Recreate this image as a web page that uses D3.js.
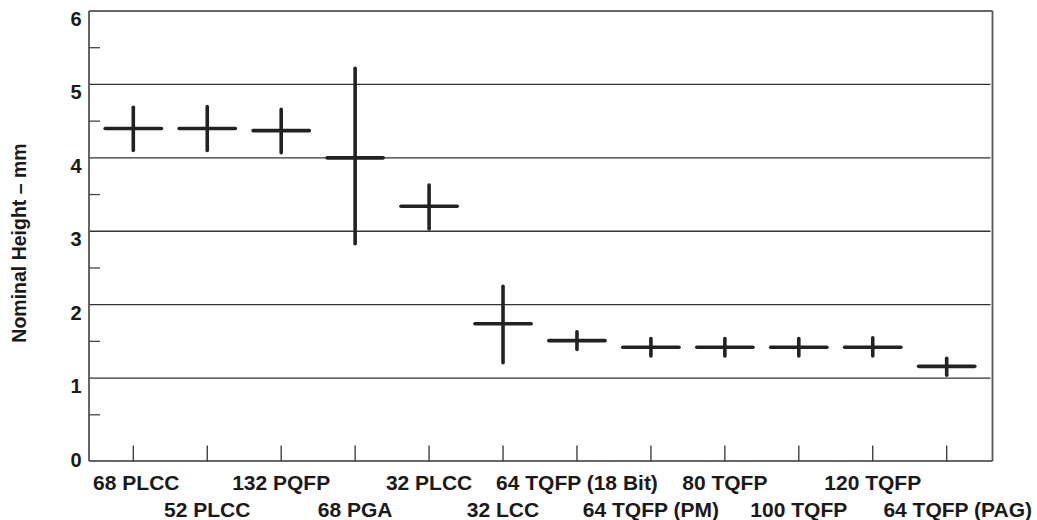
<!DOCTYPE html>
<html>
<head>
<meta charset="utf-8">
<script src="https://cdn.jsdelivr.net/npm/d3@7"></script>
<style>
  body { margin: 0; background: #fff; }
  svg text { font-family: "Liberation Sans", Arial, Helvetica, sans-serif; font-weight: bold; fill: #1a1a1a; }
</style>
</head>
<body>
<svg id="chart" width="1037" height="520"></svg>
<script>
// package names, in plot order
var categories = ['68 PLCC', '52 PLCC', '132 PQFP', '68 PGA', '32 PLCC', '32 LCC',
    '64 TQFP (18 Bit)', '64 TQFP (PM)', '80 TQFP', '100 TQFP', '120 TQFP', '64 TQFP (PAG)'];
// nominal height, mm
var nominal = [4.40, 4.40, 4.37, 4.00, 3.34, 1.74, 1.51, 1.42, 1.42, 1.42, 1.42, 1.16];
// min / max height, mm
var minHeight = [4.10, 4.10, 4.07, 2.83, 3.03, 1.21, 1.39, 1.30, 1.30, 1.30, 1.30, 1.04];
var maxHeight = [4.69, 4.70, 4.66, 5.22, 3.63, 2.25, 1.63, 1.54, 1.54, 1.54, 1.55, 1.27];
var yTicks = [0, 1, 2, 3, 4, 5, 6];
var yMinorTicks = [0.5, 1.5, 2.5, 3.5, 4.5, 5.5];
var yTitle = 'Nominal Height \u2013 mm';

var frame = { left: 89, right: 992.5, top: 11, bottom: 461 };

var svg = d3.select('#chart');

var x = d3.scalePoint()
    .domain(categories)
    .range([133.3, 946.7]);

var y = d3.scaleLinear()
    .domain([0, 6])
    .range([451.5, 11]);

var data = categories.map(function(c, i) {
    return { name: c, nom: nominal[i], lo: minHeight[i], hi: maxHeight[i] };
});

// gridlines
svg.append('g').attr('class', 'grid')
  .selectAll('line')
  .data(yTicks.filter(function(d) { return d > 0 && d < 6; }))
  .join('line')
    .attr('x1', frame.left)
    .attr('x2', frame.right - 2)
    .attr('y1', function(d) { return y(d); })
    .attr('y2', function(d) { return y(d); })
    .attr('stroke', '#333')
    .attr('stroke-width', 1.3);

// frame: top, right, bottom, left
var fr = svg.append('g').attr('class', 'frame').attr('fill', 'none');
fr.append('line').attr('x1', frame.left).attr('x2', frame.right)
    .attr('y1', frame.top).attr('y2', frame.top)
    .attr('stroke', '#333').attr('stroke-width', 1.4);
fr.append('line').attr('x1', frame.right).attr('x2', frame.right)
    .attr('y1', frame.top).attr('y2', frame.bottom)
    .attr('stroke', '#555').attr('stroke-width', 1.8);
fr.append('line').attr('x1', frame.left).attr('x2', frame.right)
    .attr('y1', frame.bottom).attr('y2', frame.bottom)
    .attr('stroke', '#333').attr('stroke-width', 1.6);
fr.append('line').attr('x1', frame.left).attr('x2', frame.left)
    .attr('y1', frame.top).attr('y2', frame.bottom)
    .attr('stroke', '#555').attr('stroke-width', 1.8);

// minor ticks on the left axis
svg.append('g').attr('class', 'minor')
  .selectAll('line')
  .data(yMinorTicks)
  .join('line')
    .attr('x1', frame.left)
    .attr('x2', frame.left + 11)
    .attr('y1', function(d) { return y(d); })
    .attr('y2', function(d) { return y(d); })
    .attr('stroke', '#444')
    .attr('stroke-width', 1.3);

// y tick labels (sit just below their value, as in the original)
svg.append('g').attr('class', 'ylabels')
  .selectAll('text')
  .data(yTicks)
  .join('text')
    .attr('x', 81.5)
    .attr('y', function(d) { return y(d) + 15; })
    .attr('text-anchor', 'end')
    .attr('font-size', 20)
    .text(function(d) { return d; });

// category ticks rising from the bottom axis
svg.append('g').attr('class', 'xticks')
  .selectAll('line')
  .data(categories)
  .join('line')
    .attr('x1', function(d) { return x(d); })
    .attr('x2', function(d) { return x(d); })
    .attr('y1', frame.bottom)
    .attr('y2', frame.bottom - 15.5)
    .attr('stroke', '#333')
    .attr('stroke-width', 1.3);

// category labels, staggered on two rows; the outer two are nudged inward/outward
var labelShift = function(i) {
    if (i === 0) return 3;
    if (i === categories.length - 1) return 11;
    return 0;
};
svg.append('g').attr('class', 'xlabels')
  .selectAll('text')
  .data(categories)
  .join('text')
    .attr('x', function(d, i) { return x(d) + labelShift(i); })
    .attr('y', function(d, i) { return i % 2 ? 516.5 : 490; })
    .attr('text-anchor', 'middle')
    .attr('font-size', 21)
    .text(function(d) { return d; });

// y axis title
svg.append('text')
    .attr('transform', 'translate(26,243) rotate(-90)')
    .attr('text-anchor', 'middle')
    .attr('font-size', 19.5)
    .text(yTitle);

// crosses: horizontal = nominal, vertical = min..max
var halfW = x.step() * 0.38;
var marks = svg.append('g').attr('class', 'marks')
    .attr('stroke', '#222')
    .attr('stroke-width', 3.6)
    .attr('stroke-linecap', 'round');

marks.selectAll('line.nom')
  .data(data)
  .join('line')
    .attr('class', 'nom')
    .attr('x1', function(d) { return x(d.name) - halfW; })
    .attr('x2', function(d) { return x(d.name) + halfW; })
    .attr('y1', function(d) { return y(d.nom); })
    .attr('y2', function(d) { return y(d.nom); });

marks.selectAll('line.range')
  .data(data)
  .join('line')
    .attr('class', 'range')
    .attr('x1', function(d) { return x(d.name); })
    .attr('x2', function(d) { return x(d.name); })
    .attr('y1', function(d) { return y(d.lo); })
    .attr('y2', function(d) { return y(d.hi); });
</script>
</body>
</html>
